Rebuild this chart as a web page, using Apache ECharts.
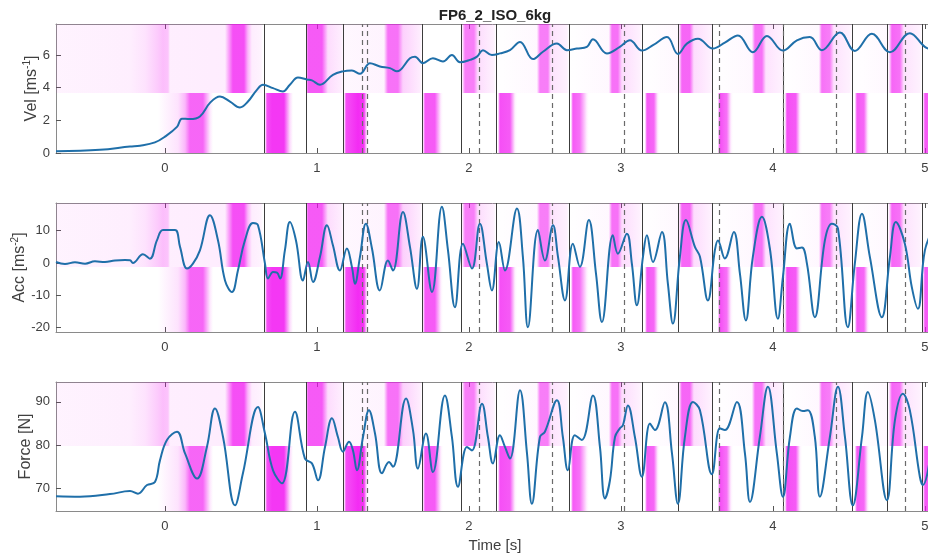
<!DOCTYPE html>
<html><head><meta charset="utf-8">
<script src="https://cdn.jsdelivr.net/npm/echarts@6/dist/echarts.min.js"></script>
<style>html,body{margin:0;padding:0;background:#fff}#c{width:928px;height:558px}</style>
</head><body><div id="c"></div>
<script>
const timeTicks = [0, 1, 2, 3, 4, 5];
const velTicks = [0, 2, 4, 6];
const accTicks = [-20, -10, 0, 10];
const forceTicks = [70, 80, 90];

const velData = [
[-0.717,0.1],[-0.428,0.2],[-0.230,0.4],[-0.164,0.45],[-0.066,0.65],[0,1.0],[0.079,1.6],[0.112,2.1],[0.164,2.08],[0.230,2.24],
[0.296,3.07],[0.362,3.46],[0.428,3.15],[0.493,2.79],[0.546,3.15],[0.605,3.87],[0.645,4.18],[0.711,3.97],[0.776,3.77],[0.822,4.18],
[0.875,4.62],[0.934,4.5],[0.967,4.45],[1.020,4.18],[1.105,4.79],[1.171,5.0],[1.230,5.05],[1.283,4.85],[1.349,5.5],[1.414,5.3],
[1.480,5.2],[1.526,5.0],[1.612,5.8],[1.645,5.9],[1.697,5.5],[1.763,5.8],[1.829,5.6],[1.888,6.0],[1.941,5.55],[2.007,5.7],
[2.053,5.9],[2.092,6.3],[2.151,6.0],[2.204,6.1],[2.270,6.3],[2.336,6.8],[2.421,5.75],[2.487,6.2],[2.579,6.7],[2.645,6.3],
[2.711,6.4],[2.776,6.5],[2.816,6.97],[2.908,6.1],[2.993,6.5],[3.059,6.9],[3.138,6.27],[3.211,6.6],[3.303,7.1],[3.375,6.07],
[3.434,6.7],[3.507,7.0],[3.605,6.4],[3.684,6.76],[3.770,7.2],[3.868,6.17],[3.961,7.17],[4.066,6.27],[4.158,6.9],[4.243,7.1],
[4.322,6.3],[4.441,7.38],[4.539,6.25],[4.651,7.3],[4.770,6.17],[4.901,7.34],[5.0,6.5],[5.06,6.3]
];

const accData = [
[-0.717,0.3],[-0.658,-0.3],[-0.592,0.2],[-0.526,-0.2],[-0.461,0.5],[-0.395,0.3],[-0.329,0.8],[-0.263,0.9],[-0.230,0.84],[-0.211,0],
[-0.145,2.7],[-0.099,1.35],[-0.053,7.0],[-0.013,10.2],[0.066,10.2],[0.099,5.0],[0.145,-1.7],[0.184,-0.2],[0.230,3.9],[0.296,14.8],
[0.349,7.0],[0.395,-5.4],[0.441,-9.0],[0.480,-2.3],[0.526,7.0],[0.579,12.4],[0.612,11.7],[0.658,-0.2],[0.678,-4.8],[0.711,-2.8],
[0.737,-3.0],[0.757,-4.8],[0.789,3.9],[0.822,12.7],[0.862,7.0],[0.908,-5.4],[0.941,0.3],[0.974,-5.9],[1.020,1.9],[1.066,11.7],
[1.105,5.5],[1.151,-2.3],[1.197,4.5],[1.230,-1.2],[1.250,-6.4],[1.283,1.9],[1.322,12.2],[1.362,4.5],[1.414,-8.5],[1.467,0.8],
[1.500,-2.3],[1.566,15.8],[1.612,5.0],[1.658,-8.0],[1.697,8.1],[1.757,-9.0],[1.822,17.4],[1.862,4.0],[1.908,-13.7],[1.961,6.0],
[2.020,-1.7],[2.072,12.2],[2.118,-0.2],[2.151,-8.5],[2.197,6.5],[2.237,-2.3],[2.316,16.9],[2.355,1.9],[2.388,-19.9],[2.454,10.2],
[2.500,0.8],[2.553,11.7],[2.586,1.9],[2.632,-11.6],[2.684,6.0],[2.730,-1.2],[2.789,13.3],[2.836,-3.3],[2.875,-18.3],[2.947,8.6],
[2.980,2.9],[3.039,9.1],[3.072,-0.2],[3.105,-13.1],[3.145,1.9],[3.171,8.6],[3.211,0.3],[3.270,9.6],[3.309,-6.4],[3.342,-18.8],
[3.388,1.9],[3.428,13.3],[3.487,5.0],[3.520,1.9],[3.572,-11.6],[3.618,3.9],[3.638,7.0],[3.684,1.4],[3.743,9.6],[3.783,-3.3],
[3.822,-17.8],[3.868,1.9],[3.928,14.3],[3.980,4.5],[4.033,-17.3],[4.066,-4.3],[4.112,12.2],[4.158,4.5],[4.191,4.8],[4.224,-0.2],
[4.276,-16.8],[4.342,7.0],[4.388,12.2],[4.428,10.7],[4.493,-19.9],[4.539,-0.2],[4.586,15.3],[4.638,1.9],[4.717,-16.8],[4.770,1.9],
[4.809,12.7],[4.868,6.0],[4.914,-7.5],[4.954,-14.2],[5.0,3.9],[5.06,11.0]
];

const forceData = [
[-0.717,68.2],[-0.559,68.1],[-0.362,68.7],[-0.230,69.4],[-0.178,68.8],[-0.118,70.8],[-0.066,71.5],[-0.033,76.5],[0.013,81.2],[0.079,83.1],
[0.132,78.1],[0.211,72.3],[0.276,79.6],[0.329,88.5],[0.382,81.9],[0.461,66.1],[0.513,73.5],[0.612,88.8],[0.658,82.7],[0.711,74.2],
[0.770,71.2],[0.855,87.7],[0.921,76.9],[0.967,75.8],[1.007,71.9],[1.053,79.6],[1.099,86.2],[1.138,81.9],[1.171,78.5],[1.211,80.8],
[1.237,78.8],[1.263,74.2],[1.303,81.9],[1.342,88.1],[1.382,82.7],[1.428,73.5],[1.474,76.1],[1.500,75.0],[1.586,90.8],[1.632,83.5],
[1.664,74.6],[1.717,82.7],[1.763,73.8],[1.842,91.5],[1.888,81.9],[1.928,70.4],[1.987,79.6],[2.020,78.8],[2.086,89.6],[2.125,81.9],
[2.158,75.8],[2.204,82.3],[2.237,79.6],[2.270,76.9],[2.336,92.7],[2.382,78.1],[2.414,66.5],[2.467,81.9],[2.500,83.1],[2.579,90.4],
[2.618,81.9],[2.651,74.2],[2.697,82.3],[2.743,81.2],[2.816,91.5],[2.862,79.6],[2.895,67.7],[2.928,71.9],[2.961,81.9],[2.993,83.9],
[3.013,84.6],[3.046,89.2],[3.092,81.9],[3.138,72.7],[3.191,85.0],[3.224,83.5],[3.289,89.9],[3.336,78.1],[3.375,66.5],[3.421,81.9],
[3.474,90.0],[3.520,88.1],[3.599,73.3],[3.651,83.9],[3.684,83.5],[3.763,90.0],[3.816,78.1],[3.849,66.9],[3.914,81.9],[3.967,93.5],
[4.026,78.1],[4.066,68.1],[4.112,81.9],[4.158,88.5],[4.197,87.9],[4.230,88.1],[4.276,81.9],[4.309,68.1],[4.375,81.9],[4.428,93.5],
[4.474,81.9],[4.526,66.1],[4.586,81.9],[4.625,92.3],[4.671,85.8],[4.750,67.3],[4.803,85.8],[4.855,91.9],[4.901,88.1],[4.967,72.7],
[4.987,70.8],[5.06,84.0]
];

const solidEvents = [0.645,0.934,1.171,1.691,1.947,2.178,2.658,3.138,3.375,3.605,4.072,4.520,4.750,4.980];
const dashedEvents = [1.296,1.329,2.072,2.553,3.020,3.651,4.066,4.421,4.868];

// [time, intensity] for the upper and lower shading rows
const upperShade = [
[-0.717,0.05],[-0.230,0.07],[-0.130,0.12],[-0.050,0.22],[-0.013,0.28],[0.020,0.25],[0.033,0.07],[0.395,0.08],[0.428,0.5],[0.447,0.75],[0.520,0.75],
[0.546,0.3],[0.572,0.08],[0.632,0.05],[0.645,0],[0.928,0],[0.941,0.7],[1.033,0.7],[1.072,0.15],[1.158,0.08],[1.171,0.03],
[1.441,0.05],[1.467,0.6],[1.533,0.6],[1.566,0.2],[1.678,0.08],[1.691,0],[1.954,0],[1.974,0.55],[2.033,0.55],[2.059,0.15],
[2.164,0.06],[2.178,0],[2.447,0.03],[2.467,0.55],[2.520,0.55],[2.539,0.12],[2.645,0.06],[2.658,0],[2.921,0.03],[2.941,0.6],
[2.980,0.6],[3.007,0.15],[3.125,0.06],[3.138,0],[3.382,0.03],[3.401,0.65],[3.454,0.65],[3.480,0.15],[3.592,0.06],[3.605,0],
[3.862,0.03],[3.882,0.6],[3.928,0.6],[3.954,0.12],[4.059,0.06],[4.072,0],[4.303,0.03],[4.322,0.6],[4.375,0.55],[4.401,0.12],
[4.507,0.06],[4.520,0],[4.763,0.03],[4.783,0.65],[4.836,0.6],[4.862,0.12],[4.967,0.06],[4.980,0],[5.06,0]
];
const lowerShade = [
[-0.717,0],[-0.046,0],[0.007,0.05],[0.086,0.12],[0.132,0.3],[0.164,0.65],[0.250,0.65],[0.296,0.1],[0.316,0],[0.658,0],
[0.671,0.75],[0.704,0.85],[0.783,0.85],[0.822,0.15],[0.842,0],[1.178,0],[1.191,0.75],[1.270,0.9],[1.309,0.85],[1.329,0.05],
[1.342,0],[1.697,0],[1.711,0.7],[1.776,0.7],[1.816,0.06],[1.829,0],[2.191,0],[2.204,0.75],[2.270,0.7],[2.303,0.06],
[2.316,0],[2.671,0],[2.684,0.7],[2.730,0.6],[2.776,0.06],[2.789,0],[3.158,0],[3.171,0.7],[3.217,0.65],[3.243,0.06],
[3.257,0],[3.638,0],[3.651,0.75],[3.697,0.6],[3.724,0.06],[3.737,0],[4.079,0],[4.092,0.75],[4.151,0.7],[4.178,0.06],
[4.191,0],[4.539,0],[4.553,0.7],[4.599,0.65],[4.625,0.06],[4.638,0],[4.987,0],[5.000,0.7],[5.06,0.7]
];

const X_MIN = -0.717, X_MAX = 5.06;
const panels = [
  {name: 'Vel [ms{sup|-1}]', data: velData, ticks: velTicks, min: 0, max: 7.9, split: 3.67, top: 24, gap: 15},
  {name: 'Acc [ms{sup|-2}]', data: accData, ticks: accTicks, min: -21.4, max: 18.6, split: -1.24, top: 203, gap: 27},
  {name: 'Force [N]', data: forceData, ticks: forceTicks, min: 64.8, max: 94.6, split: 79.8, top: 382, gap: 22}
];

const FONT = 'Liberation Sans, Arial, sans-serif';
const AX = '#8a8a8a', TXT = '#404040';

function stops(arr) {
  return arr.map(p => ({offset: Math.min(1, Math.max(0, (p[0] - X_MIN) / (X_MAX - X_MIN))),
                        color: 'rgba(242,20,242,' + p[1] + ')'}));
}

function shadeRender(panel) {
  return function (params, api) {
    const tl = api.coord([X_MIN, panel.max]);
    const mid = api.coord([X_MAX, panel.split]);
    const br = api.coord([X_MAX, panel.min]);
    return {type: 'group', children: [
      {type: 'rect', shape: {x: tl[0], y: tl[1], width: mid[0] - tl[0], height: mid[1] - tl[1]},
       style: {fill: new echarts.graphic.LinearGradient(0, 0, 1, 0, stops(upperShade))}},
      {type: 'rect', shape: {x: tl[0], y: mid[1], width: br[0] - tl[0], height: br[1] - mid[1]},
       style: {fill: new echarts.graphic.LinearGradient(0, 0, 1, 0, stops(lowerShade))}}
    ]};
  };
}

const grid = [], xAxis = [], yAxis = [], series = [];
panels.forEach((p, i) => {
  grid.push({left: 56, right: -6, top: p.top, height: 129, containLabel: false, outerBoundsMode: 'none'});
  xAxis.push({type: 'value', gridIndex: i, min: X_MIN, max: X_MAX, position: 'bottom',
    axisLine: {show: true, onZero: false, lineStyle: {color: AX}}, splitLine: {show: false},
    axisTick: {inside: true, length: 5, lineStyle: {color: '#555'}, customValues: timeTicks},
    axisLabel: {color: TXT, fontFamily: FONT, fontSize: 13, margin: 9, customValues: timeTicks},
    name: i === 2 ? 'Time [s]' : '', nameLocation: 'middle', nameGap: 27, nameMoveOverlap: false,
    nameTextStyle: {color: TXT, fontFamily: FONT, fontSize: 15}});
  xAxis.push({type: 'value', gridIndex: i, min: X_MIN, max: X_MAX, position: 'top',
    axisLine: {show: true, onZero: false, lineStyle: {color: AX}}, splitLine: {show: false},
    axisTick: {inside: true, length: 5, lineStyle: {color: '#555'}, customValues: timeTicks},
    axisLabel: {show: false}});
  yAxis.push({type: 'value', gridIndex: i, min: p.min, max: p.max,
    axisLine: {show: true, onZero: false, lineStyle: {color: AX}}, splitLine: {show: false},
    axisTick: {show: true, inside: true, length: 5, lineStyle: {color: '#555'}, customValues: p.ticks},
    axisLabel: {color: TXT, fontFamily: FONT, fontSize: 13, margin: 6, customValues: p.ticks},
    name: p.name, nameLocation: 'middle', nameGap: p.gap, nameRotate: 90, nameMoveOverlap: false,
    nameTextStyle: {color: TXT, fontFamily: FONT, fontSize: 16,
      rich: {sup: {fontSize: 10, fontFamily: FONT, color: TXT, verticalAlign: 'top', padding: [0, 0, 9, 0]}}}});
  series.push({type: 'custom', xAxisIndex: 2 * i, yAxisIndex: i, z: 1, silent: true,
    renderItem: shadeRender(p), data: [[0, 0]], clip: true});
  series.push({type: 'line', xAxisIndex: 2 * i, yAxisIndex: i, z: 2, data: p.data, showSymbol: false,
    lineStyle: {opacity: 0}, silent: true,
    markLine: {silent: true, symbol: ['none', 'none'], label: {show: false}, animation: false,
      data: solidEvents.map(t => ({xAxis: t, lineStyle: {color: '#3c3c3c', width: 1, type: 'solid'}}))
        .concat(dashedEvents.map(t => ({xAxis: t, lineStyle: {color: '#6a6a6a', width: 1.2, type: [5, 4]}})))}});
  series.push({type: 'line', xAxisIndex: 2 * i, yAxisIndex: i, z: 5, data: p.data, showSymbol: false,
    smooth: 0.4, lineStyle: {color: '#1f6fa9', width: 2}, silent: true, clip: true});
});

const chart = echarts.init(document.getElementById('c'));
chart.setOption({
  animation: false,
  backgroundColor: '#fff',
  grid, xAxis, yAxis, series,
  graphic: [{type: 'text', x: 495, y: 16,
    style: {text: 'FP6_2_ISO_6kg', font: 'bold 15px ' + FONT, fill: '#222', textAlign: 'center', textVerticalAlign: 'middle'}}]
});
</script></body></html>
